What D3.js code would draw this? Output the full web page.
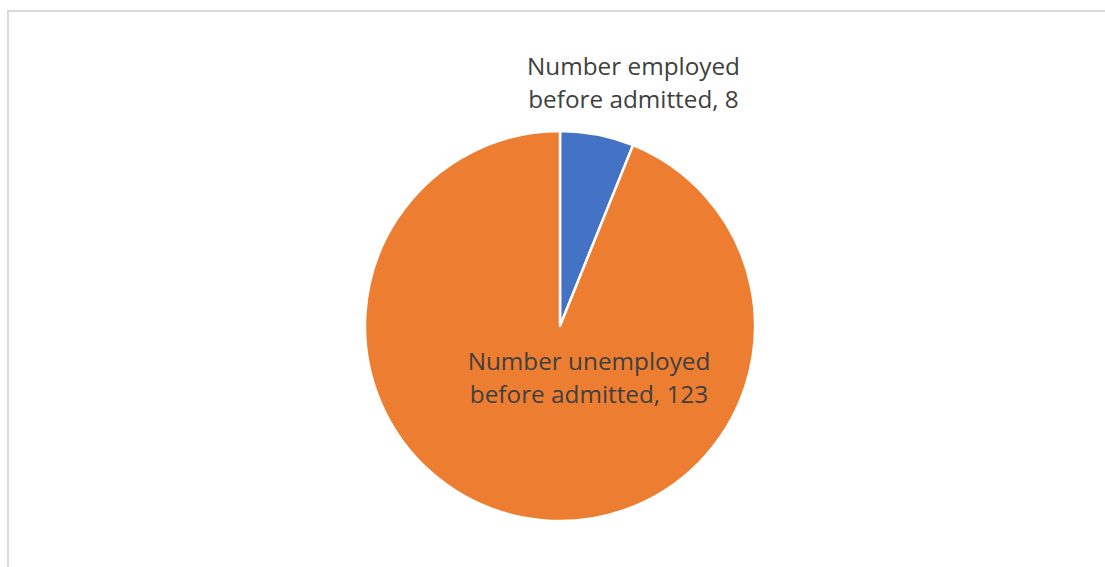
<!DOCTYPE html>
<html>
<head>
<meta charset="utf-8">
<script src="https://cdn.jsdelivr.net/npm/d3@7"></script>
<style>
  html, body { margin: 0; padding: 0; background: #fff; }
  svg { display: block; }
</style>
</head>
<body>
<svg id="chart" width="1105" height="567"></svg>
<script>
// Employment status before admission
const categories = ["Number employed before admitted", "Number unemployed before admitted"];
const values = [8, 123];
const colors = ["#4472C4", "#ED7D31"];
// Label lines as shown next to each slice
const labelLines = [
  ["Number employed", "before admitted, 8"],
  ["Number unemployed", "before admitted, 123"]
];

const svg = d3.select("#chart");
const W = 1105, H = 567;

// chart area frame
svg.append("rect")
  .attr("x", 8).attr("y", 11)
  .attr("width", W + 20).attr("height", H + 20)
  .attr("fill", "#fff")
  .attr("stroke", "#d9d9d9")
  .attr("stroke-width", 2);

const cx = 560, cy = 326, radius = 195;

const data = categories.map((c, i) => ({ name: c, value: values[i], color: colors[i], lines: labelLines[i] }));

const pie = d3.pie().value(d => d.value).sort(null);
const arc = d3.arc().innerRadius(0).outerRadius(radius);
const arcs = pie(data);

const g = svg.append("g").attr("transform", `translate(${cx},${cy})`);

g.selectAll("path.slice")
  .data(arcs)
  .join("path")
  .attr("class", "slice")
  .attr("d", arc)
  .attr("fill", d => d.data.color)
  .attr("stroke", "#fff")
  .attr("stroke-width", 2.5)
  .attr("stroke-linejoin", "round");

// label placement: small slice label sits outside, large slice label inside
const labelPos = [
  { x: 73.5, y: -251 },
  { x: 29, y: 44 }
];
const lineH = 33;

arcs.forEach((a, i) => {
  const t = g.append("text")
    .attr("text-anchor", "middle")
    .attr("font-family", "'Open Sans', 'Liberation Sans', sans-serif")
    .attr("font-size", 24.3)
    .attr("fill", "#404040");
  a.data.lines.forEach((ln, j) => {
    t.append("tspan")
      .attr("x", labelPos[i].x)
      .attr("y", labelPos[i].y + j * lineH)
      .text(ln);
  });
});
</script>
</body>
</html>
